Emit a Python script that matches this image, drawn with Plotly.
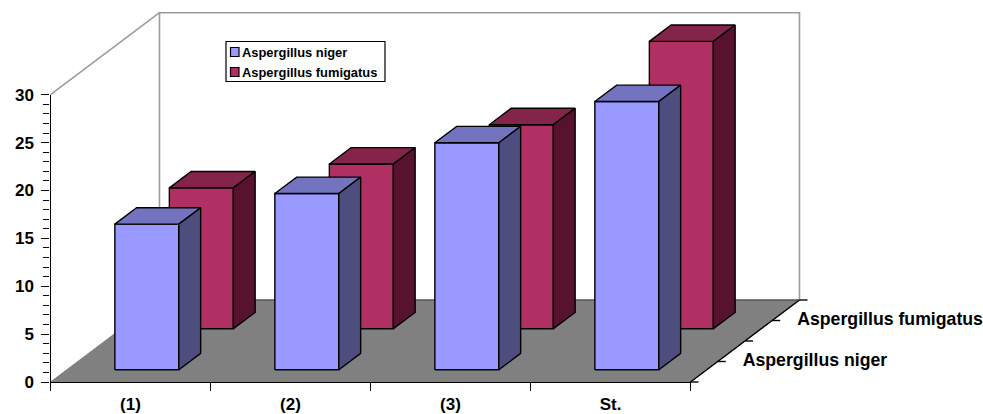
import plotly.graph_objects as go

categories = ["(1)", "(2)", "(3)", "St."]
series_names = ["Aspergillus niger", "Aspergillus fumigatus"]
niger = [15.2, 18.4, 23.7, 28.0]
fumigatus = [14.7, 17.2, 21.3, 30.0]

FONT = "Liberation Sans, Arial, sans-serif"
W, H = 983, 414
LEFT, RIGHT_EDGE, TOP, BOTTOM = 50.5, 690.5, 94.7, 382.0

# Oblique projection: how far the full floor depth shifts in axis units.
UNIT_X = (RIGHT_EDGE - LEFT) / 4
UNIT_Y = (BOTTOM - TOP) / 30
DEPTH_X = 109 / UNIT_X
DEPTH_Y = 82 / UNIT_Y
BAR_WIDTH = 0.4
BAR_DEPTH = 0.2
YMAX = 30


def project(cat, val, depth):
    return cat + depth * DEPTH_X, val + depth * DEPTH_Y


def polygon(corners):
    pts = [project(*c) for c in corners]
    pts.append(pts[0])
    return [p[0] for p in pts] + [None], [p[1] for p in pts] + [None]


def face_trace(polys, fill):
    xs, ys = [], []
    for corners in polys:
        px_, py_ = polygon(corners)
        xs += px_
        ys += py_
    return go.Scatter(x=xs, y=ys, mode="lines", fill="toself", fillcolor=fill,
                      line=dict(color="#000000", width=1.4),
                      hoverinfo="skip", showlegend=False)


def edge_trace(segments, color, width):
    xs, ys = [], []
    for seg in segments:
        for c in seg:
            x, y = project(*c)
            xs.append(x)
            ys.append(y)
        xs.append(None)
        ys.append(None)
    return go.Scatter(x=xs, y=ys, mode="lines", line=dict(color=color, width=width),
                      hoverinfo="skip", showlegend=False)


fig = go.Figure()

# Floor and the two open walls of the chart box
n = len(categories)
fx, fy = polygon([(0, 0, 0), (n, 0, 0), (n, 0, 1), (0, 0, 1)])
fig.add_trace(go.Scatter(x=fx, y=fy, mode="lines", fill="toself", fillcolor="#808080",
                         line=dict(color="#808080", width=1),
                         hoverinfo="skip", showlegend=False))
fig.add_trace(edge_trace([
    [(0, YMAX, 0), (0, YMAX, 1)],
    [(0, 0, 1), (0, YMAX, 1), (n, YMAX, 1), (n, 0, 1)],
], "#9c9c9c", 1.6))
fig.add_trace(edge_trace([[(0, 0, 1), (n, 0, 1)]], "#404040", 1))

# Depth axis along the right side of the floor
depth_ticks = [0, 0.25, 0.5, 0.75, 1]
fig.add_trace(edge_trace(
    [[(n, 0, 0), (n, 0, 1)]] + [[(n, 0, d), (n + 0.05, 0, d)] for d in depth_ticks],
    "#000000", 1.4))

# Bars, back row first so the front row overlaps it
rows = [
    (fumigatus, 0.65, "#b03064", "#84244b", "#58122e"),
    (niger, 0.15, "#9999ff", "#7373c0", "#4d4d80"),
]
for values, d0, front, top, side in rows:
    d1 = d0 + BAR_DEPTH
    front_faces, top_faces, side_faces = [], [], []
    for i, v in enumerate(values):
        x0 = i + (1 - BAR_WIDTH) / 2
        x1 = x0 + BAR_WIDTH
        front_faces.append([(x0, 0, d0), (x1, 0, d0), (x1, v, d0), (x0, v, d0)])
        top_faces.append([(x0, v, d0), (x1, v, d0), (x1, v, d1), (x0, v, d1)])
        side_faces.append([(x1, 0, d0), (x1, 0, d1), (x1, v, d1), (x1, v, d0)])
    fig.add_trace(face_trace(front_faces, front))
    fig.add_trace(face_trace(top_faces, top))
    fig.add_trace(face_trace(side_faces, side))

# Series names beside the depth axis
label_x, label_y = zip(*[project(n + 0.156, 0, d) for d in (0.25, 0.75)])
fig.add_trace(go.Scatter(x=label_x, y=label_y, mode="text", text=series_names,
                         textposition="middle right",
                         textfont=dict(family=FONT, size=17.7, color="#000000"),
                         texttemplate="<b>%{text}</b>", hoverinfo="skip", showlegend=False))

# Value and category axes sit on their own subplot over the drawing
fig.add_trace(go.Scatter(x=[], y=[], xaxis="x2", yaxis="y2", hoverinfo="skip", showlegend=False))


def px(x):
    return x / W


def py(y):
    return 1 - y / H


# Boxed key
shapes = [dict(type="rect", xref="paper", yref="paper", x0=px(226), x1=px(385),
               y0=py(81.5), y1=py(41.5), line=dict(color="#000000", width=1.2),
               fillcolor="#ffffff", layer="above")]
annotations = []
for name, colour, top_edge in zip(series_names, ("#9999ff", "#b03064"), (47.5, 67.5)):
    shapes.append(dict(type="rect", xref="paper", yref="paper", x0=px(230.5), x1=px(239),
                       y0=py(top_edge + 9), y1=py(top_edge),
                       line=dict(color="#000000", width=1.2), fillcolor=colour, layer="above"))
    annotations.append(dict(xref="paper", yref="paper", x=px(242), y=py(top_edge + 4.5),
                            text=f"<b>{name}</b>", showarrow=False, xanchor="left",
                            yanchor="middle", xshift=-2, font=dict(family=FONT, size=12.9, color="#000000")))

fig.update_layout(
    width=W, height=H,
    margin=dict(l=0, r=0, t=0, b=0, pad=0, autoexpand=False),
    paper_bgcolor="#ffffff", plot_bgcolor="rgba(0,0,0,0)",
    showlegend=False, shapes=shapes, annotations=annotations,
    xaxis=dict(visible=False, range=[-LEFT / UNIT_X, (W - LEFT) / UNIT_X], domain=[0, 1]),
    yaxis=dict(visible=False, range=[-(H - BOTTOM) / UNIT_Y, BOTTOM / UNIT_Y], domain=[0, 1]),
    xaxis2=dict(domain=[px(LEFT), px(RIGHT_EDGE)], anchor="y2", range=[0, n],
                tickmode="array", tickvals=[i + 0.5 for i in range(n)],
                ticktext=[f"<b>{c}</b>" for c in categories], ticks="", showgrid=False,
                zeroline=False, showline=True, linecolor="#000000", linewidth=1.4,
                tickfont=dict(family=FONT, size=17, color="#000000"), ticklabelstandoff=6,
                minor=dict(tickmode="linear", tick0=0, dtick=1, ticks="outside", ticklen=8,
                           tickcolor="#000000", tickwidth=1.4, showgrid=False)),
    yaxis2=dict(domain=[py(BOTTOM), py(TOP)], anchor="x2", range=[0, YMAX], tick0=0, dtick=5,
                ticks="outside", ticklen=8, tickcolor="#000000", tickwidth=1.4, showgrid=False,
                zeroline=False, showline=True, linecolor="#000000", linewidth=1.4,
                tickprefix="<b>", ticksuffix="</b>", ticklabelstandoff=4,
                tickfont=dict(family=FONT, size=17, color="#000000"),
                minor=dict(tick0=0, dtick=1, ticks="outside", ticklen=6, tickcolor="#000000",
                           tickwidth=1.2, showgrid=False)),
)

fig.write_html("out.html", config=dict(displayModeBar=False))
